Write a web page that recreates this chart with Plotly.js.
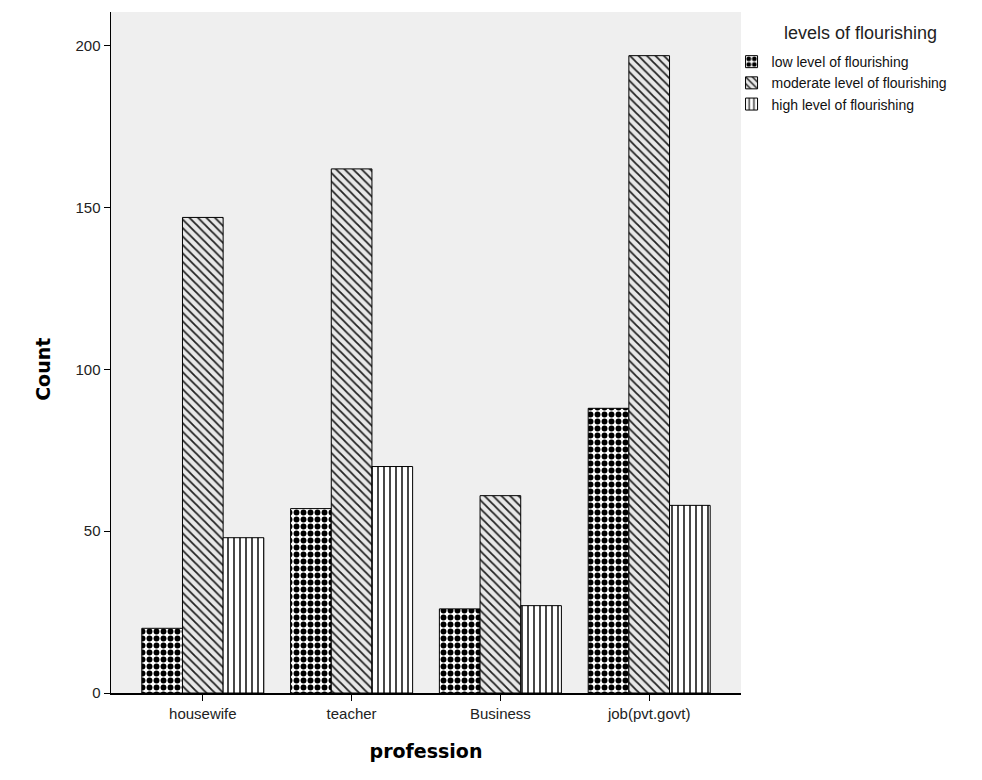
<!DOCTYPE html>
<html>
<head>
<meta charset="utf-8">
<script src="https://cdn.plot.ly/plotly-3.0.1.min.js"></script>
<style>
html,body{margin:0;padding:0;background:#fff;}
#chart{width:982px;height:780px;}
</style>
</head>
<body>
<div id="chart"></div>
<script>
const categories = ["housewife", "teacher", "Business", "job(pvt.govt)"];
const seriesNames = ["low level of flourishing", "moderate level of flourishing", "high level of flourishing"];
const lowValues = [20, 57, 26, 88];
const moderateValues = [147, 162, 61, 197];
const highValues = [48, 70, 27, 58];
const yTicks = [0, 50, 100, 150, 200];
const legendTitle = "levels of flourishing";
const xTitle = "profession";
const yTitle = "Count";

const patterns = [
  {shape: ".", fgcolor: "#000", bgcolor: "#fff", size: 7, solidity: 0.55, fillmode: "replace"},
  {shape: "\\", fgcolor: "#222", bgcolor: "#e8e8e8", size: 6, solidity: 0.3, fillmode: "replace"},
  {shape: "|", fgcolor: "#333", bgcolor: "#fff", size: 6, solidity: 0.3, fillmode: "replace"}
];
const values = [lowValues, moderateValues, highValues];

const traces = values.map((v, i) => ({
  type: "bar",
  name: seriesNames[i],
  x: categories,
  y: v,
  marker: {color: "#fff", pattern: patterns[i], line: {color: "#000", width: 1}},
  hoverinfo: "x+y+name"
}));

const layout = {
  width: 982, height: 780,
  margin: {l: 111, r: 241, t: 12, b: 87},
  paper_bgcolor: "#fff",
  plot_bgcolor: "#efefef",
  barmode: "group",
  bargap: 0.18,
  bargroupgap: 0,
  font: {family: "Liberation Sans, Arial, sans-serif", size: 15, color: "#111"},
  xaxis: {
    range: [-0.617, 3.617],
    showgrid: false, zeroline: false,
    showline: true, linecolor: "#000", linewidth: 1.5,
    ticks: "outside", ticklen: 6, tickcolor: "#000",
    tickfont: {size: 15, color: "#222"},
    title: {text: xTitle, font: {family: "DejaVu Sans, sans-serif", size: 19, weight: "bold", color: "#000"}, standoff: 24}
  },
  yaxis: {
    range: [0, 210.5],
    tickvals: yTicks,
    showgrid: false, zeroline: false,
    showline: true, linecolor: "#000", linewidth: 1.5,
    ticks: "outside", ticklen: 6, tickcolor: "#000",
    tickfont: {size: 15, color: "#222"}
  },
  annotations: [
    {text: yTitle, xref: "paper", yref: "paper", x: -0.109, y: 0.475, xanchor: "center", yanchor: "middle",
     textangle: -90, showarrow: false, font: {family: "DejaVu Sans, sans-serif", size: 19, weight: "bold", color: "#000"}},
    {text: legendTitle, xref: "paper", yref: "paper", x: 1.19, y: 0.969, xanchor: "center", yanchor: "middle",
     showarrow: false, font: {size: 18, color: "#222"}}
  ],
  legend: {
    x: 0.985, xanchor: "left", y: 0.95, yanchor: "top",
    bgcolor: "rgba(0,0,0,0)",
    font: {size: 14, color: "#111"},
    itemwidth: 30,
    tracegroupgap: 0
  },
  showlegend: true
};

Plotly.newPlot("chart", traces, layout, {displayModeBar: false, staticPlot: true});
</script>
</body>
</html>
